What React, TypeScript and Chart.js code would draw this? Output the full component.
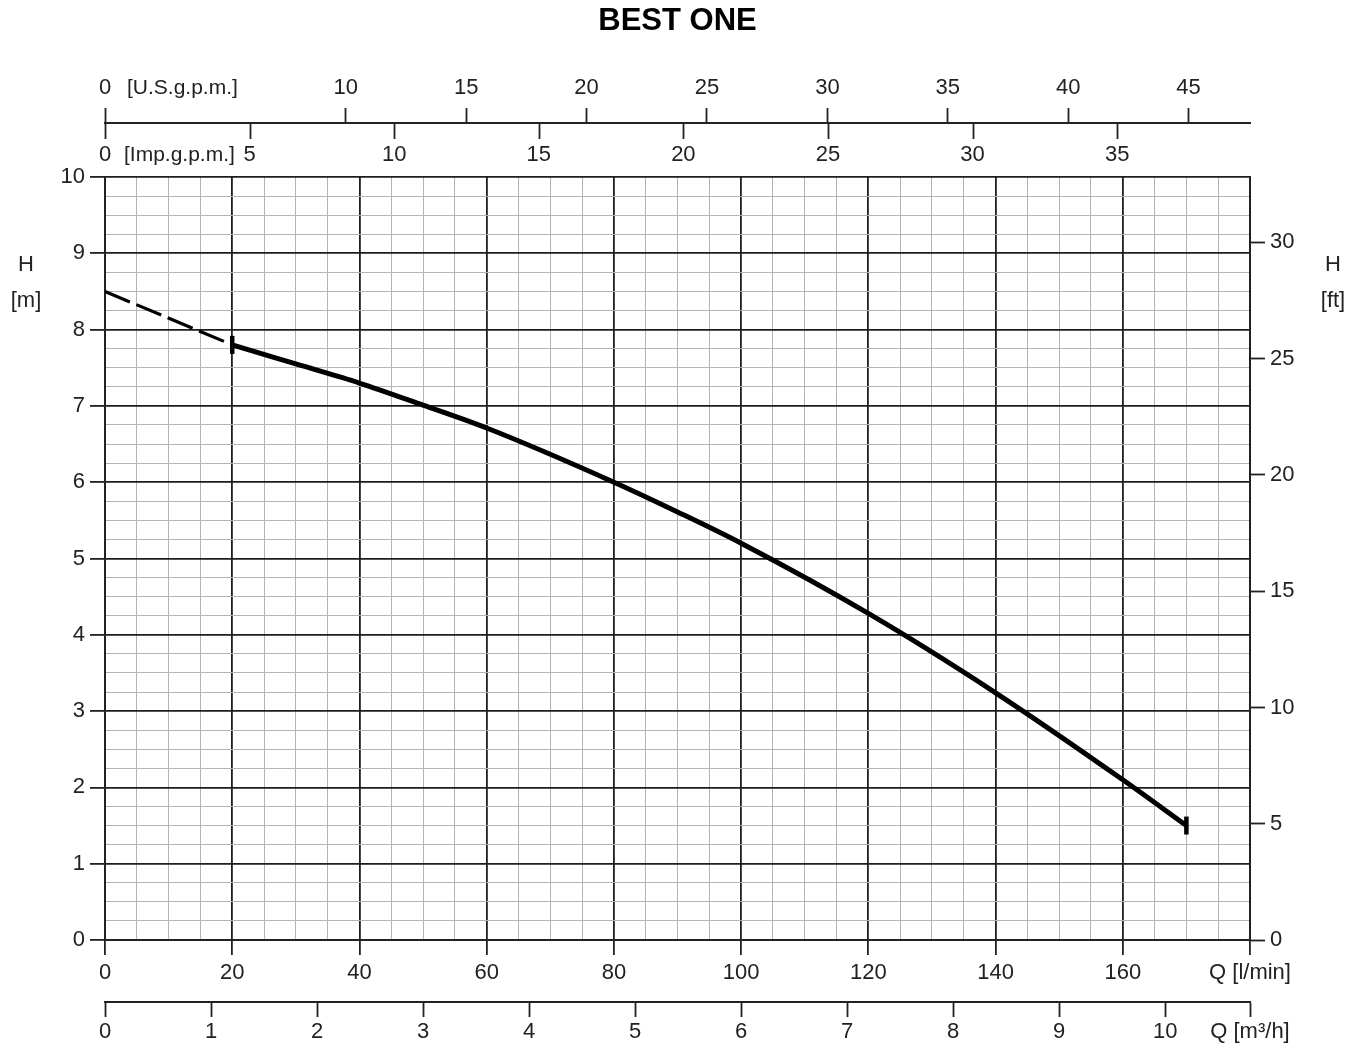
import React, { useEffect, useRef } from 'react';
import { Chart, registerables } from 'chart.js';

Chart.register(...registerables);

// ---------- data ----------
const TITLE = 'BEST ONE';

// dashed (extrapolated) part of the curve, Q [l/min] / H [m]
const FLOW_DASHED_LPM = [0, 20];
const HEAD_DASHED_M = [8.5, 7.8];

// solid working range of the curve
const FLOW_LPM = [20, 30, 40, 50, 60, 80, 90, 100, 120, 140, 160, 170];
const HEAD_M = [7.8, 7.55, 7.3, 7.01, 6.71, 6.0, 5.61, 5.2, 4.28, 3.24, 2.1, 1.5];

// axes
const X_MAX_LPM = 180;
const X_MAJOR_STEP = 20;
const X_MINOR_STEP = 5;
const Y_MAX_M = 10;
const Y_MAJOR_STEP = 1;
const Y_MINOR_STEP = 0.25;

const US_GPM_TICKS = [0, 10, 15, 20, 25, 30, 35, 40, 45];
const IMP_GPM_TICKS = [0, 5, 10, 15, 20, 25, 30, 35];
const M3H_TICKS = [0, 1, 2, 3, 4, 5, 6, 7, 8, 9, 10];
const FT_TICKS = [0, 5, 10, 15, 20, 25, 30];

const X_UNIT_LABEL = 'Q [l/min]';
const M3H_UNIT_LABEL = 'Q [m³/h]';
const US_UNIT_LABEL = '[U.S.g.p.m.]';
const IMP_UNIT_LABEL = '[Imp.g.p.m.]';
const H_LABEL = 'H';
const M_UNIT_LABEL = '[m]';
const FT_UNIT_LABEL = '[ft]';

// unit conversions
const LPM_PER_US_GPM = 3.785411784;
const LPM_PER_IMP_GPM = 4.54609;
const LPM_PER_M3H = 1000 / 60;
const M_PER_FT = 0.3048;

// ---------- style ----------
const FONT_FAMILY = "'Liberation Sans Narrow', 'Liberation Sans', Arial, sans-serif";
const TICK_SIZE = 22;
const UNIT_SIZE = 21;
const LINE_H = 1.2;
const TEXT = '#222';
const AXIS = '#222';
const MAJOR = '#1e1e1e';
const MINOR = '#b4b4b4';
const TICK_LEN = 15;

const near = (v: number, step: number) => Math.abs(v / step - Math.round(v / step)) < 1e-9;
const stepTicks = (max: number, step: number) => {
  const out: { value: number }[] = [];
  for (let i = 0; i * step <= max + 1e-9; i++) out.push({ value: i * step });
  return out;
};

const tickFont = { family: FONT_FAMILY, size: TICK_SIZE, lineHeight: LINE_H };
const TITLE_SIZE = 31;
const TITLE_PAD_TOP = 3;
const TITLE_H = TITLE_SIZE * LINE_H + TITLE_PAD_TOP;

const extrasPlugin = {
  id: 'axisExtras',
  afterDraw(chart: any) {
    const ctx = chart.ctx as CanvasRenderingContext2D;
    const us = chart.scales.xUs;
    const imp = chart.scales.xImp;
    const area = chart.chartArea;
    ctx.save();
    // Imp.g.p.m. tick marks hang below the shared line
    ctx.strokeStyle = AXIS;
    ctx.lineWidth = 1.8;
    const lineY = us.bottom;
    for (const v of IMP_GPM_TICKS) {
      const px = Math.round(imp.getPixelForValue(v)) + 0.5;
      ctx.beginPath();
      ctx.moveTo(px, lineY);
      ctx.lineTo(px, lineY + TICK_LEN + 1);
      ctx.stroke();
    }
    ctx.font = `${UNIT_SIZE}px ${FONT_FAMILY}`;
    ctx.fillStyle = TEXT;
    ctx.textBaseline = 'middle';
    ctx.textAlign = 'left';
    const half = (TICK_SIZE * LINE_H) / 2;
    const usLabelY = us.bottom - TICK_LEN - 7 - half;
    const impLabelY = imp.bottom - 9 - half;
    ctx.fillText(US_UNIT_LABEL, us.getPixelForValue(0) + 22, usLabelY);
    ctx.fillText(IMP_UNIT_LABEL, imp.getPixelForValue(0) + 19, impLabelY);
    // H axis titles
    ctx.font = `${TICK_SIZE}px ${FONT_FAMILY}`;
    ctx.textAlign = 'center';
    const leftX = area.left - 79;
    const rightX = area.right + 83;
    ctx.fillText(H_LABEL, leftX, area.top + 88);
    ctx.fillText(M_UNIT_LABEL, leftX, area.top + 124);
    ctx.fillText(H_LABEL, rightX, area.top + 88);
    ctx.fillText(FT_UNIT_LABEL, rightX, area.top + 124);
    ctx.restore();
  },
};

export default function App() {
  const ref = useRef<HTMLCanvasElement>(null);

  useEffect(() => {
    document.body.style.margin = '0';
    const canvas = ref.current;
    if (!canvas) return;

    const dashedData = FLOW_DASHED_LPM.map((q, i) => ({ x: q, y: HEAD_DASHED_M[i] }));
    const curveData = FLOW_LPM.map((q, i) => ({ x: q, y: HEAD_M[i] }));
    const lastIdx = curveData.length - 1;

    const chart = new Chart(canvas, {
      type: 'line',
      data: {
        datasets: [
          {
            label: 'H extrapolated',
            data: dashedData,
            xAxisID: 'x',
            yAxisID: 'y',
            borderColor: '#000',
            borderWidth: 3.2,
            borderDash: [27, 7],
            pointRadius: 0,
            tension: 0,
          },
          {
            label: 'H',
            data: curveData,
            xAxisID: 'x',
            yAxisID: 'y',
            borderColor: '#000',
            borderWidth: 5,
            tension: 0.4,
            cubicInterpolationMode: 'monotone',
            pointStyle: 'line',
            pointRotation: 90,
            pointRadius: (c: any) => (c.dataIndex === 0 || c.dataIndex === lastIdx ? 9 : 0),
            pointBorderWidth: 4.5,
            pointBorderColor: '#000',
            pointBackgroundColor: '#000',
          },
        ],
      },
      options: {
        responsive: false,
        animation: false,
        devicePixelRatio: 1,
        layout: { padding: 0 },
        events: [],
        plugins: {
          legend: { display: false },
          tooltip: { enabled: false },
          title: {
            display: true,
            text: TITLE,
            fullSize: false,
            color: '#000',
            font: { family: "'Liberation Sans', Arial, sans-serif", size: TITLE_SIZE, weight: 'bold', lineHeight: LINE_H },
            padding: { top: TITLE_PAD_TOP, bottom: 0 },
          },
        },
        scales: {
          x: {
            type: 'linear',
            position: 'bottom',
            weight: 0,
            min: 0,
            max: X_MAX_LPM,
            afterBuildTicks: (s: any) => { s.ticks = stepTicks(X_MAX_LPM, X_MINOR_STEP); },
            afterFit: (s: any) => { s.height = 62; },
            grid: {
              color: (c: any) => (near(c.tick.value, X_MAJOR_STEP) ? MAJOR : MINOR),
              lineWidth: (c: any) => (near(c.tick.value, X_MAJOR_STEP) ? 1.8 : 1),
              tickColor: (c: any) => (near(c.tick.value, X_MAJOR_STEP) ? AXIS : 'rgba(0,0,0,0)'),
              tickWidth: 1.8,
              tickLength: TICK_LEN,
            },
            border: { display: true, color: AXIS, width: 2 },
            ticks: {
              autoSkip: false,
              maxRotation: 0,
              minRotation: 0,
              padding: 5,
              color: TEXT,
              font: tickFont,
              callback: (v: any) =>
                near(v, X_MAX_LPM) && v > 0 ? X_UNIT_LABEL : near(v, X_MAJOR_STEP) ? String(Math.round(v)) : '',
            },
          },
          xM3h: {
            type: 'linear',
            position: 'bottom',
            weight: 1,
            min: 0,
            max: X_MAX_LPM / LPM_PER_M3H,
            afterBuildTicks: (s: any) => {
              s.ticks = [...M3H_TICKS.map((v) => ({ value: v })), { value: X_MAX_LPM / LPM_PER_M3H }];
            },
            afterFit: (s: any) => { s.height = 47; },
            grid: { drawOnChartArea: false, tickLength: TICK_LEN, tickColor: AXIS, tickWidth: 1.8 },
            border: { display: true, color: AXIS, width: 2 },
            ticks: {
              autoSkip: false,
              maxRotation: 0,
              minRotation: 0,
              padding: 2,
              color: TEXT,
              font: tickFont,
              callback: (v: any, i: number, t: any[]) => (i === t.length - 1 ? M3H_UNIT_LABEL : String(v)),
            },
          },
          xUs: {
            type: 'linear',
            position: 'top',
            weight: 1,
            min: 0,
            max: X_MAX_LPM / LPM_PER_US_GPM,
            afterBuildTicks: (s: any) => { s.ticks = US_GPM_TICKS.map((v) => ({ value: v })); },
            afterFit: (s: any) => { s.height = 123 - TITLE_H; },
            grid: { drawOnChartArea: false, tickLength: TICK_LEN, tickColor: AXIS, tickWidth: 1.8 },
            border: { display: true, color: AXIS, width: 2 },
            ticks: {
              autoSkip: false,
              maxRotation: 0,
              minRotation: 0,
              padding: 7,
              color: TEXT,
              font: tickFont,
              callback: (v: any) => String(v),
            },
          },
          xImp: {
            type: 'linear',
            position: 'top',
            weight: 0,
            min: 0,
            max: X_MAX_LPM / LPM_PER_IMP_GPM,
            afterBuildTicks: (s: any) => { s.ticks = IMP_GPM_TICKS.map((v) => ({ value: v })); },
            afterFit: (s: any) => { s.height = 54; },
            grid: { drawOnChartArea: false, drawTicks: false },
            border: { display: false },
            ticks: {
              autoSkip: false,
              maxRotation: 0,
              minRotation: 0,
              padding: 9,
              color: TEXT,
              font: tickFont,
              callback: (v: any) => String(v),
            },
          },
          y: {
            type: 'linear',
            position: 'left',
            min: 0,
            max: Y_MAX_M,
            afterBuildTicks: (s: any) => { s.ticks = stepTicks(Y_MAX_M, Y_MINOR_STEP); },
            afterFit: (s: any) => { s.width = 105; },
            grid: {
              color: (c: any) => (near(c.tick.value, Y_MAJOR_STEP) ? MAJOR : MINOR),
              lineWidth: (c: any) => (near(c.tick.value, Y_MAJOR_STEP) ? 1.8 : 1),
              tickColor: (c: any) => (near(c.tick.value, Y_MAJOR_STEP) ? AXIS : 'rgba(0,0,0,0)'),
              tickWidth: 1.8,
              tickLength: TICK_LEN,
            },
            border: { display: true, color: AXIS, width: 2 },
            ticks: {
              autoSkip: false,
              padding: 5,
              color: TEXT,
              font: tickFont,
              callback: (v: any) => (near(v, Y_MAJOR_STEP) ? String(Math.round(v)) : ''),
            },
          },
          yFt: {
            type: 'linear',
            position: 'right',
            min: 0,
            max: Y_MAX_M / M_PER_FT,
            afterBuildTicks: (s: any) => { s.ticks = FT_TICKS.map((v) => ({ value: v })); },
            afterFit: (s: any) => { s.width = 122; },
            grid: { drawOnChartArea: false, tickLength: TICK_LEN, tickColor: AXIS, tickWidth: 1.8 },
            border: { display: true, color: AXIS, width: 2 },
            ticks: {
              autoSkip: false,
              padding: 5,
              color: TEXT,
              font: tickFont,
              callback: (v: any) => String(v),
            },
          },
        },
      } as any,
      plugins: [extrasPlugin],
    });

    return () => chart.destroy();
  }, []);

  return (
    <div style={{ width: 1372, height: 1049 }}>
      <canvas ref={ref} width={1372} height={1049} style={{ display: 'block' }} />
    </div>
  );
}
